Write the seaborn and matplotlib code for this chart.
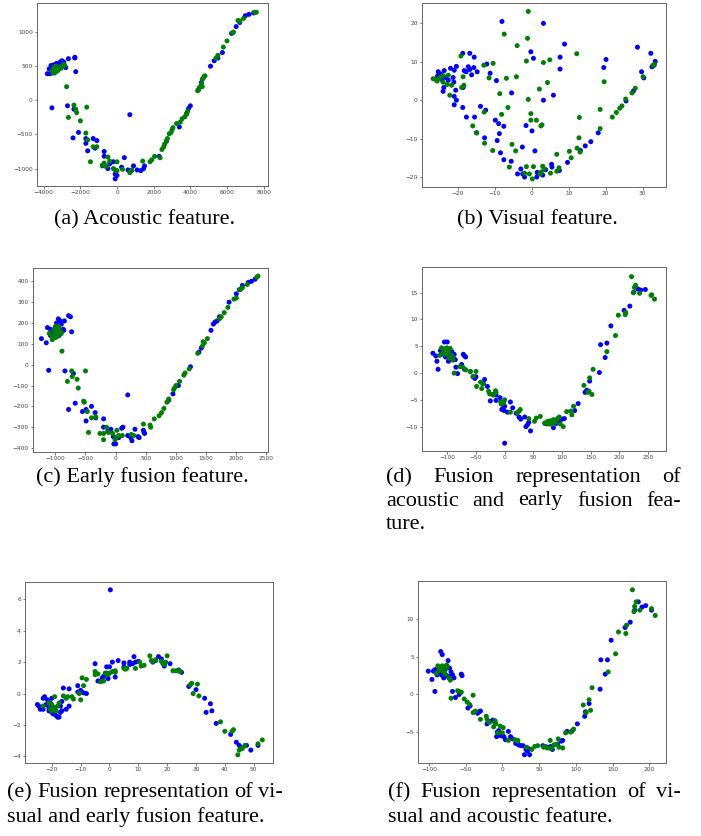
import numpy as np
import pandas as pd
import matplotlib
matplotlib.use("Agg")
import matplotlib.pyplot as plt
import seaborn as sns

# ---------------- data (x, y) ----------------
A_BLUE = [(-3800,390),(-3650,390),(-3600,510),(-3450,520),(-3300,540),(-3200,500),(-3100,560),(-3000,580),
          (-2900,560),(-2800,480),(-2650,610),(-2300,620),(-2300,630),(-2250,420),(-3500,470),(-3400,450),
          (-3200,450),(-3700,460),(-3050,500),(-2950,520),(-3550,-110),(-2700,-80),(-2350,-130),(-2400,-550),
          (-2100,-470),(-1700,-560),(-1700,-630),(-1600,-740),(-1300,-560),(-1200,-700),(-1100,-590),(-700,-750),
          (-700,-820),(-500,-1000),(-400,-930),(-200,-900),(-100,-1150),(0,-1100),(250,-980),(400,-840),(700,-210),
          (600,-1020),(800,-1030),(900,-960),(1100,-1020),(1300,-1030),(1450,-1000),(1500,-960),(2300,-820),
          (2700,-600),(3400,-390),(3800,-190),(3900,-120),(4000,-80),(4450,160),(4600,260),(5100,500),(5300,580),
          (5500,620),(5750,700),(6250,980),(6500,1080),(6700,1140),(7000,1240),(7200,1260),(7450,1280),
          (-800,-960),(-100,-1080)]
A_GREEN = [(-3500,440),(-3400,400),(-3300,460),(-3200,470),(-3100,480),(-3000,500),(-2900,530),(-3450,480),
           (-3250,430),(-3050,470),(-2850,510),(-3500,400),(-3350,500),(-2750,200),(-2650,-250),(-2350,-70),
           (-2250,-130),(-2200,-180),(-2000,-300),(-1700,-480),(-1650,-100),(-1600,-580),(-1450,-900),(-1300,-680),
           (-1100,-680),(-800,-950),(-700,-920),(-600,-970),(-500,-830),(-400,-890),(-200,-1000),(-100,-1020),
           (0,-900),(0,-1030),(300,-1010),(700,-1060),(800,-1020),(1400,-890),(1800,-900),(1900,-870),(2050,-820),
           (2350,-840),(2450,-720),(2550,-680),(2600,-640),(2700,-590),(2750,-560),(2850,-490),(2950,-470),
           (3000,-430),(3050,-400),(3250,-340),(3450,-320),(3550,-270),(3700,-240),(3800,-200),(3850,-160),
           (4400,140),(4500,190),(4600,240),(4650,310),(4700,320),(4750,350),(4800,360),(4650,200),(5400,620),
           (5500,660),(5800,780),(6000,870),(6300,990),(6350,1000),(6600,1170),(6700,1160),(6900,1200),
           (7500,1290),(7600,1290)]

B_BLUE = [(-8.0,20.5),(3.2,20.0),(8.9,14.6),(28.6,13.8),(32.2,12.2),(33.4,10.1),(20.1,10.6),(19.5,8.5),(7.7,11.2),
          (7.7,8.1),(-0.2,12.6),(0.5,10.9),(-18.6,12.2),(-16.7,12.2),(-15.5,11.2),(-20.3,8.8),(-21.9,8.3),(-20.9,7.8),
          (-18.2,7.7),(-17.7,7.4),(-17.1,8.7),(-16.7,8.0),(-15.6,8.5),(-14.7,7.4),(-16.2,6.6),(-12.1,9.4),(-11.2,7.0),
          (-9.5,5.1),(-23.6,7.7),(-25.2,7.4),(-24.5,6.8),(-25.4,6.3),(-24.3,5.4),(-23.2,5.9),(-22.5,5.2),(-21.2,5.9),
          (-21.0,4.7),(-23.7,3.3),(-23.9,2.3),(-20.5,2.6),(-20.9,1.0),(-20.3,0.0),(-20.9,-1.2),(-18.6,-1.9),(-18.5,3.3),
          (-5.4,1.9),(5.9,1.3),(3.2,0.0),(-13.8,-1.6),(-12.4,-2.6),(-17.6,-4.4),(-15.4,-4.4),(-9.8,-5.2),(-8.9,-6.1),
          (-7.5,-6.8),(-1.5,-6.6),(0.1,-8.0),(-14.9,-8.5),(-12.7,-9.8),(-8.7,-8.7),(-9.3,-10.5),(-8.4,-13.7),
          (-7.5,-15.5),(-5.5,-15.9),(-2.5,-12.2),(0.9,-13.2),(-3.8,-19.2),(-2.9,-17.9),(-2.4,-19.2),(-1.9,-20.0),
          (1.4,-20.0),(1.5,-18.8),(3.0,-19.5),(5.4,-16.7),(5.5,-17.4),(7.5,-18.3),(9.7,-16.2),(13.2,-13.1),
          (14.5,-11.9),(16.0,-10.8),(18.0,-8.5),(25.5,-0.2),(27.5,2.4),(29.7,7.4),(30.3,5.8),(32.5,8.7),(33.1,9.1),
          (3.8,-18.1)]
B_GREEN = [(-0.9,23.1),(-7.4,17.2),(-1.1,16.1),(-3.9,14.2),(12.2,12.1),(-1.4,10.2),(3.2,9.8),(4.9,10.5),(-10.4,9.6),
           (-12.9,9.1),(-11.5,5.8),(-19.1,11.5),(-6.8,5.7),(-4.1,6.1),(4.3,4.6),(19.6,4.8),(2.1,2.9),(-8.6,1.7),
           (-0.9,0.2),(-6.4,-1.9),(-8.1,-3.7),(-12.8,-3.1),(18.5,-2.4),(12.9,-4.5),(21.8,-4.4),(22.9,-3.2),
           (23.8,-2.1),(24.4,-1.5),(25.4,0.3),(27.1,1.9),(28.0,3.1),(30.1,6.1),(32.8,9.1),(33.1,9.3),(-0.2,-3.5),
           (-0.2,-5.2),(1.3,-5.2),(2.5,-6.7),(2.8,-6.4),(18.5,-7.4),(-15.9,-6.7),(-14.8,-8.5),(-12.7,-11.2),
           (-5.3,-11.5),(-10.5,-13.1),(-4.3,-13.2),(12.8,-9.8),(12.3,-12.5),(13.1,-13.5),(10.7,-15.0),(10.2,-13.3),
           (6.8,-14.1),(-6.0,-17.4),(-1.4,-17.3),(0.5,-17.3),(3.0,-17.2),(3.4,-17.9),(2.6,-18.7),(2.3,-19.2),
           (5.1,-19.0),(6.8,-18.5),(7.4,-17.6),(-0.6,-19.2),(-1.9,-19.0),(0.2,-20.5),(-26.6,5.6),(-25.9,5.4),
           (-25.5,5.0),(-24.8,5.9),(-23.9,4.7),(-22.8,4.1),(-21.6,3.9),(-22.1,1.3),(-18.9,3.3),(-18.3,3.9),
           (-18.5,6.1),(-23.9,6.4),(-22.5,6.5)]

C_BLUE = [(-1230,125),(-1150,105),(-1130,178),(-1080,170),(-1050,150),(-1000,180),(-980,200),(-950,220),(-920,210),
          (-900,195),(-870,170),(-850,210),(-780,235),(-750,230),(-730,158),(-860,165),(-1080,140),(-1020,130),
          (-940,140),(-1010,160),(-1110,-27),(-840,-30),(-700,-42),(-780,-215),(-670,-185),(-550,-225),(-490,-215),
          (-490,-270),(-400,-200),(-340,-230),(-330,-255),(-200,-260),(-200,-300),(-130,-320),(-80,-310),(-40,-345),
          (0,-380),(-30,-380),(50,-350),(100,-305),(120,-300),(200,-145),(200,-340),(250,-350),(270,-365),(320,-310),
          (370,-345),(390,-350),(460,-315),(470,-325),(480,-330),(880,-170),(950,-140),(1040,-100),(1240,-10),
          (1380,60),(1420,80),(1580,165),(1620,195),(1650,205),(1680,210),(1720,230),(1880,300),(2000,340),
          (2050,360),(2100,380),(2200,395),(2250,400),(2310,410)]
C_GREEN = [(-1100,150),(-1050,120),(-1000,130),(-980,150),(-960,170),(-940,180),(-920,160),(-900,150),(-1030,165),
           (-990,185),(-950,155),(-970,135),(-1060,140),(-890,65),(-730,-30),(-720,-57),(-800,-80),(-640,-70),
           (-620,-112),(-500,-30),(-530,-175),(-520,-180),(-470,-225),(-450,-325),(-400,-255),(-330,-250),
           (-260,-330),(-200,-330),(-200,-360),(-150,-300),(-120,-325),(-50,-330),(0,-350),(20,-315),(50,-340),
           (-10,-360),(110,-340),(260,-335),(300,-340),(460,-285),(570,-290),(580,-300),(640,-260),(720,-245),
           (760,-230),(800,-210),(850,-180),(880,-165),(960,-120),(980,-110),(1000,-100),(1060,-80),(1130,-50),
           (1150,-40),(1220,-20),(1360,55),(1440,90),(1450,110),(1470,105),(1520,125),(1720,220),(1750,230),
           (1800,250),(1860,275),(1960,315),(2000,320),(2060,360),(2080,365),(2100,370),(2180,385),(2340,420),
           (2360,425)]

D_BLUE = [(-125,3.7),(-118,2.2),(-116,0.7),(-120,3.2),(-112,4.2),(-105,5.8),(-100,5.8),(-108,4.5),(-103,3.0),
          (-98,2.2),(-95,3.3),(-92,4.0),(-90,2.8),(-88,3.5),(-86,2.5),(-85,1.1),(-82,-0.1),(-75,1.6),(-72,3.5),
          (-70,3.2),(-68,3.0),(-70,0.7),(-60,0.3),(-55,-0.7),(-50,-0.7),(-52,-1.0),(-35,-1.2),(-37,-2.0),(-30,-2.5),
          (-25,-5.2),(-20,-4.0),(-15,-4.1),(-15,-5.1),(-8,-4.6),(-5,-6.8),(-3,-5.9),(-1,-7.0),(0,-6.2),(0,-13.1),
          (5,-7.3),(10,-5.4),(14,-6.5),(20,-7.5),(25,-8.2),(28,-8.6),(35,-8.2),(37,-10.0),(40,-9.6),(42,-9.2),
          (45,-10.8),(70,-9.4),(80,-9.3),(85,-10.2),(90,-9.4),(95,-9.0),(100,-8.6),(104,-8.5),(122,-7.0),(128,-5.7),
          (140,-3.6),(143,-3.2),(148,-1.5),(165,0.1),(167,5.3),(175,2.9),(178,5.6),(185,8.8),(208,11.7),(218,12.5),
          (225,15.1),(232,15.7),(237,15.5),(245,15.6),(-95,2.6),(-100,3.6),(-110,3.5)]
D_GREEN = [(-113,3.3),(-110,4.7),(-107,3.8),(-104,4.5),(-101,4.7),(-99,3.8),(-97,4.3),(-95,4.6),(-102,3.5),
           (-98,4.0),(-92,3.3),(-90,2.4),(-96,2.8),(-88,0.0),(-78,1.2),(-73,1.1),(-68,0.6),(-60,0.3),(-55,-0.6),
           (-50,0.3),(-49,-2.5),(-42,-1.7),(-40,-2.9),(-38,-2.0),(-28,-3.4),(-26,-3.9),(-20,-4.1),(-16,-3.3),
           (-15,-3.6),(-7,-5.4),(-6,-5.8),(-3,-5.4),(0,-5.0),(-2,-5.6),(10,-7.3),(22,-7.4),(25,-7.1),(27,-6.8),
           (42,-8.5),(52,-9.0),(55,-8.4),(62,-8.1),(70,-9.3),(73,-9.5),(75,-9.0),(77,-9.5),(80,-8.9),(82,-9.6),
           (85,-8.7),(88,-9.1),(92,-8.5),(95,-8.2),(97,-9.5),(102,-10.0),(108,-7.2),(115,-7.1),(117,-7.8),
           (120,-6.2),(138,-2.3),(145,-3.6),(147,-3.4),(148,-0.9),(152,-4.0),(154,0.7),(178,4.0),(193,7.0),
           (198,10.8),(210,10.9),(211,11.3),(221,18.0),(224,15.0),(226,16.0),(228,16.4),(235,14.9),(255,14.5),
           (256,14.6),(261,13.8)]

E_BLUE = [(0.3,6.6),(-25,-0.7),(-24.5,-0.8),(-23,-0.3),(-22.5,-0.2),(-23,-1.0),(-21.5,-0.4),(-21,-0.9),
          (-20.5,-0.6),(-20,-1.2),(-19.5,-1.3),(-19,-0.9),(-18.5,-1.4),(-18,-1.5),(-17.5,-1.5),(-17,-1.2),
          (-17,-0.8),(-16.5,-0.5),(-16.5,-1.1),(-16,0.35),(-15,-1.0),(-14,-0.8),(-14,0.3),(-11,0.5),(-11,0.1),
          (-10,0.2),(-9,0.05),(-8,0.0),(-5,1.9),(-4,0.8),(-3,0.8),(-2.5,1.0),(-2,1.1),(-1,1.7),(-1,1.3),(0,1.7),
          (-0.5,0.95),(2,1.05),(1,2.0),(3,2.1),(5,1.95),(5,1.7),(7,2.0),(7,1.85),(8,1.9),(8.5,2.35),(9,2.0),
          (10,2.05),(15,2.0),(16,2.1),(17,2.35),(18,2.2),(19,1.9),(19,1.75),(21,1.9),(24,1.5),(25,1.35),
          (27.5,0.45),(30,0.25),(33,-0.3),(33.5,-1.2),(35,-0.65),(35.5,-1.1),(37,-1.9),(42,-2.6),(44,-3.1),
          (45,-3.3),(46,-3.45),(47.5,-3.3),(49,-3.6),(51.5,-3.3),(-24,-1.0),(-22,-0.7),(-21,-1.1),(-20,-0.3),
          (-19,-1.0)]
E_GREEN = [(-23,-0.8),(-21,-0.6),(-20.5,-1.0),(-20,-0.7),(-19.5,-0.9),(-19,-0.2),(-18.5,-1.1),(-18,-0.8),
           (-17.5,-0.6),(-20,-1.1),(-16,-0.15),(-15,-0.3),(-14.5,-0.2),(-13,-0.2),(-12.5,-0.35),(-10.5,0.0),
           (-10,-0.4),(-9.5,1.0),(-9,0.5),(-8,0.9),(-5,1.4),(-5,1.2),(-4,1.25),(-3,0.75),(-2,0.8),(-1.5,1.3),
           (-0.5,1.2),(0,1.3),(1,1.4),(2,1.45),(2,1.35),(5,1.6),(5.5,1.55),(6,1.6),(9,1.6),(10.5,2.0),(11,1.75),
           (12,1.8),(14,2.4),(14.5,2.1),(15,2.05),(16,2.15),(18,2.05),(18.5,1.9),(19,1.85),(19.5,2.0),(20,2.4),
           (22,1.45),(23,1.45),(24,1.45),(24.5,1.4),(28,0.55),(28.5,0.65),(29,0.0),(30.5,0.6),(31,-0.15),
           (38.5,-1.8),(40,-2.4),(42.5,-2.4),(43,-2.3),(44.5,-3.9),(45,-3.6),(45.5,-3.5),(46,-3.5),(47,-3.3),
           (51.5,-3.2),(53,-2.95)]

F_BLUE = [(-101,3.1),(-96,2.0),(-94,3.1),(-92,0.4),(-92,3.3),(-89,2.6),(-87,3.0),(-84,5.7),(-82,5.3),(-83,2.6),
          (-80,2.2),(-78,3.3),(-76,2.5),(-74,4.5),(-72,3.5),(-71,2.4),(-70,3.0),(-68,2.6),(-68,0.4),(-66,2.2),
          (-64,-0.4),(-56,2.7),(-55,2.5),(-59,0.0),(-47,-1.8),(-44,-1.5),(-34,-2.5),(-32,-2.3),(-30,-2.2),
          (-21,-3.9),(-17,-3.6),(-13,-3.4),(-10,-3.8),(-8,-5.6),(-7,-5.0),(-5,-4.8),(-4,-5.3),(-2,-5.5),(2,-5.6),
          (4,-6.0),(8,-4.9),(11,-5.6),(14,-5.9),(18,-6.5),(20,-6.3),(22,-6.7),(25,-6.8),(28,-6.8),(30,-8.0),
          (32,-7.3),(34,-7.5),(36,-7.2),(37,-8.0),(55,-6.8),(58,-6.9),(62,-7.0),(66,-6.9),(68,-7.3),(75,-6.6),
          (80,-6.2),(82,-6.1),(88,-4.9),(95,-4.8),(102,-3.9),(112,-2.9),(113,-2.3),(118,-1.2),(133,0.7),(134,4.6),
          (140,2.7),(143,4.6),(148,7.2),(167,8.9),(174,9.6),(180,11.2),(185,12.3),(190,11.6),(195,11.8),
          (203,11.2),(-86,3.5),(-80,3.6)]
F_GREEN = [(-90,2.8),(-88,3.8),(-86,3.2),(-84,3.5),(-82,3.8),(-80,3.0),(-78,2.7),(-76,3.9),(-75,3.7),(-73,2.2),
           (-81,3.2),(-78,3.5),(-71,1.9),(-70,-0.5),(-61,0.5),(-59,0.4),(-56,0.3),(-52,-0.6),(-48,-1.0),(-45,-1.3),
           (-40,-0.1),(-40,-2.4),(-37,-2.2),(-30,-3.3),(-22,-2.9),(-21,-3.3),(-18,-3.7),(-12,-4.3),(-10,-3.5),
           (-9,-3.9),(-6,-5.1),(-3,-4.2),(0,-5.1),(1,-4.4),(8,-6.1),(17,-6.0),(20,-6.2),(21,-6.1),(33,-7.0),
           (40,-7.3),(44,-6.9),(48,-6.8),(56,-7.0),(58,-6.9),(61,-7.1),(65,-6.1),(66,-7.2),(70,-6.7),(73,-6.6),
           (76,-5.9),(77,-7.0),(82,-7.1),(86,-5.1),(93,-5.0),(97,-4.6),(110,-1.4),(114,-2.4),(118,-0.7),
           (120,-2.1),(122,0.9),(144,3.0),(154,5.4),(158,8.3),(168,8.1),(169,9.2),(177,13.9),(179,11.0),
           (180,11.7),(182,12.3),(187,11.2),(203,11.4),(208,10.5)]

# tick values per panel
A_XTICKS = [-4000, -2000, 0, 2000, 4000, 6000, 8000]; A_YTICKS = [-1000, -500, 0, 500, 1000]
B_XTICKS = [-20, -10, 0, 10, 20, 30];                  B_YTICKS = [-20, -10, 0, 10, 20]
C_XTICKS = [-1000, -500, 0, 500, 1000, 1500, 2000, 2500]; C_YTICKS = [-400, -300, -200, -100, 0, 100, 200, 300, 400]
D_XTICKS = [-100, -50, 0, 50, 100, 150, 200, 250];     D_YTICKS = [-10, -5, 0, 5, 10, 15]
E_XTICKS = [-20, -10, 0, 10, 20, 30, 40, 50];          E_YTICKS = [-4, -2, 0, 2, 4, 6]
F_XTICKS = [-100, -50, 0, 50, 100, 150, 200];          F_YTICKS = [-5, 0, 5, 10]

CAPTIONS = {
    "a": ["(a) Acoustic feature."],
    "b": ["(b) Visual feature."],
    "c": ["(c) Early fusion feature."],
    "d": ["(d) Fusion representation of", "acoustic and early fusion fea-", "ture."],
    "e": ["(e) Fusion representation of vi-", "sual and early fusion feature."],
    "f": ["(f) Fusion representation of vi-", "sual and acoustic feature."],
}

# ---------------- layout ----------------
W, H = 701, 836
sns.set_theme(style="ticks")
plt.rcParams["font.family"] = ["DejaVu Sans"]
fig = plt.figure(figsize=(W / 100, H / 100), dpi=100)

# axes pixel boxes: left, top, right, bottom
panels = [
    ("a", (37, 3, 268, 186), A_BLUE, A_GREEN, (-4364, 8236), (-1255, 1426), A_XTICKS, A_YTICKS),
    ("b", (422, 3, 666, 187), B_BLUE, B_GREEN, (-29.6, 36.3), (-22.6, 25.3), B_XTICKS, B_YTICKS),
    ("c", (33, 268, 268, 452), C_BLUE, C_GREEN, (-1370, 2525), (-419, 464), C_XTICKS, C_YTICKS),
    ("d", (422, 267, 666, 451), D_BLUE, D_GREEN, (-144, 281), (-14.55, 19.8), D_XTICKS, D_YTICKS),
    ("e", (25, 582, 273, 763), E_BLUE, E_GREEN, (-29.3, 56.7), (-4.42, 7.1), E_XTICKS, E_YTICKS),
    ("f", (418, 581, 666, 763), F_BLUE, F_GREEN, (-115, 222.7), (-9.1, 15.07), F_XTICKS, F_YTICKS),
]

for key, (l, t, r, b), blue, green, xl, yl, xt, yt in panels:
    ax = fig.add_axes([l / W, 1 - b / H, (r - l) / W, (b - t) / H])
    bl = np.array(blue, dtype=float)
    gr = np.array(green, dtype=float)
    df = pd.DataFrame({
        "x": np.concatenate([bl[:, 0], gr[:, 0]]),
        "y": np.concatenate([bl[:, 1], gr[:, 1]]),
        "c": ["blue"] * len(bl) + ["green"] * len(gr),
    })
    sns.scatterplot(data=df, x="x", y="y", hue="c", palette={"blue": "#0000ff", "green": "#008000"},
                    s=13, linewidth=0, legend=False, ax=ax, zorder=3)
    ax.set_xlim(*xl)
    ax.set_ylim(*yl)
    ax.set_xticks(xt)
    ax.set_yticks(yt)
    ax.set_xlabel("")
    ax.set_ylabel("")
    ax.tick_params(labelsize=4.2, length=1.8, width=0.5, pad=1.2, colors="#444444")
    for sp in ax.spines.values():
        sp.set_visible(True)
        sp.set_color("#666666")
        sp.set_linewidth(0.7)
    ax.set_facecolor("white")

# ---------------- captions ----------------
renderer = fig.canvas.get_renderer()
CAP_FONT = dict(family="Liberation Serif", size=16, color="black")


def put_line(x0, base, text, right=None):
    if right is None:
        fig.text(x0 / W, 1 - base / H, text, ha="left", va="baseline", **CAP_FONT)
        return
    words = text.split()
    objs = [fig.text(0, 0, w, ha="left", va="baseline", **CAP_FONT) for w in words]
    widths = [o.get_window_extent(renderer).width for o in objs]
    gap = (right - x0 - sum(widths)) / (len(words) - 1)
    x = x0
    for o, w in zip(objs, widths):
        o.set_position((x / W, 1 - base / H))
        x += w + gap


cap_pos = {
    "a": (54, [224], [None]),
    "b": (457, [224], [None]),
    "c": (36, [482], [None]),
    "d": (386, [482, 505.5, 529], [681, 681, None]),
    "e": (7, [797, 822], [283, None]),
    "f": (388, [797, 822], [681, None]),
}
for k, lines in CAPTIONS.items():
    x0, bases, rights = cap_pos[k]
    for ln, bs, rt in zip(lines, bases, rights):
        put_line(x0, bs, ln, rt)

fig.savefig("out.png", dpi=100)
